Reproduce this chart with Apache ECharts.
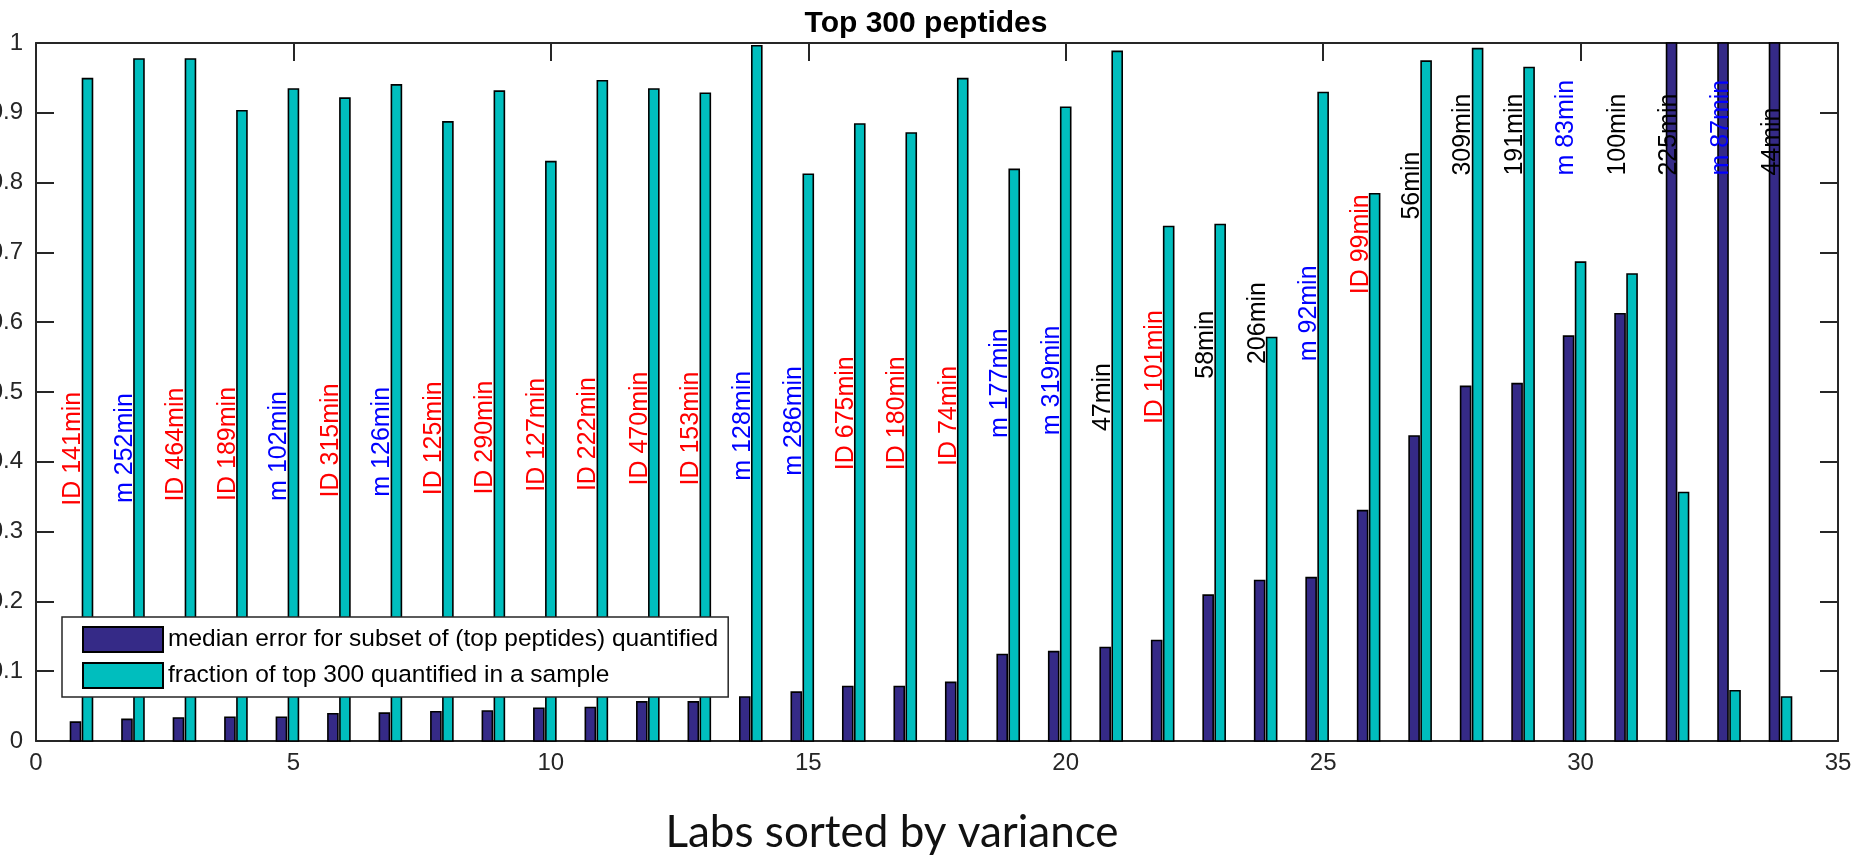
<!DOCTYPE html>
<html>
<head>
<meta charset="utf-8">
<title>Top 300 peptides</title>
<script src="https://cdn.jsdelivr.net/npm/echarts@6/dist/echarts.min.js"></script>
<style>
  html, body { margin: 0; padding: 0; background: #ffffff; }
  #chart { width: 1852px; height: 858px; }
</style>
</head>
<body>
<div id="chart"></div>
<script>
// Labs, ordered by variance
const labs = [1, 2, 3, 4, 5, 6, 7, 8, 9, 10, 11, 12, 13, 14, 15, 16, 17,
              18, 19, 20, 21, 22, 23, 24, 25, 26, 27, 28, 29, 30, 31, 32, 33, 34];

// Median error for the subset of top peptides quantified (last three run off the top of the axis)
const medianError = [0.027, 0.031, 0.033, 0.034, 0.034, 0.039, 0.040, 0.042, 0.043, 0.047,
                     0.048, 0.056, 0.056, 0.063, 0.070, 0.078, 0.078, 0.084, 0.124, 0.128,
                     0.134, 0.144, 0.209, 0.230, 0.234, 0.330, 0.437, 0.508, 0.512, 0.580,
                     0.612, 1.2, 1.2, 1.2];

// Fraction of the top 300 peptides quantified in a sample
const fractionQuantified = [0.949, 0.977, 0.977, 0.903, 0.934, 0.921, 0.940, 0.887, 0.931, 0.830,
                            0.946, 0.934, 0.928, 0.996, 0.812, 0.884, 0.871, 0.949, 0.819, 0.908,
                            0.988, 0.737, 0.740, 0.578, 0.929, 0.784, 0.974, 0.992, 0.965, 0.686,
                            0.669, 0.356, 0.072, 0.063];

// Run annotation per lab (ID = identification-based, m = match-based)
const runLabels = ['ID 141min', 'm 252min', 'ID 464min', 'ID 189min', 'm 102min', 'ID 315min',
                   'm 126min', 'ID 125min', 'ID 290min', 'ID 127min', 'ID 222min', 'ID 470min',
                   'ID 153min', 'm 128min', 'm 286min', 'ID 675min', 'ID 180min', 'ID 74min',
                   'm 177min', 'm 319min', '47min', 'ID 101min', '58min', '206min', 'm 92min',
                   'ID 99min', '56min', '309min', '191min', 'm 83min', '100min', '225min',
                   'm 87min', '44min'];

const seriesNames = ['median error for subset of (top peptides) quantified',
                     'fraction of top 300 quantified in a sample'];

const AXIS_COLOR = '#262626';
const DARK_BLUE = '#352a87';
const TEAL = '#00bebe';
const FONT = '"Liberation Sans", Arial, Helvetica, sans-serif';

const chart = echarts.init(document.getElementById('chart'), null, { renderer: 'canvas' });

// Thin bar drawn at a pixel offset from the lab position, clipped to the plot
function barSeries(name, values, color, offsetPx) {
  return {
    name: name,
    type: 'custom',
    coordinateSystem: 'cartesian2d',
    xAxisIndex: 0,
    yAxisIndex: 0,
    itemStyle: { color: color },
    encode: { x: 0, y: 1 },
    data: labs.map((x, i) => [x, values[i]]),
    z: 2,
    renderItem: function (params, api) {
      const x = api.value(0);
      const v = api.value(1);
      const top = api.coord([x, v]);
      const base = api.coord([x, 0]);
      const w = 10;
      const cs = params.coordSys;
      const shape = echarts.graphic.clipRectByRect(
        { x: top[0] + offsetPx - w / 2, y: top[1], width: w, height: base[1] - top[1] },
        { x: cs.x, y: cs.y, width: cs.width, height: cs.height }
      );
      if (!shape) return null;
      return {
        type: 'rect',
        shape: shape,
        style: { fill: color, stroke: '#000000', lineWidth: 1.6 }
      };
    }
  };
}

function labelColor(text) {
  if (text.indexOf('ID') === 0) return '#ff0000';
  if (text.indexOf('m ') === 0) return '#0000ff';
  return '#000000';
}

const axisLineStyle = { color: AXIS_COLOR, width: 2 };
const tickStyle = { show: true, inside: true, length: 18, lineStyle: { color: AXIS_COLOR, width: 2 } };

const option = {
  backgroundColor: '#ffffff',
  animation: false,
  title: {
    text: 'Top 300 peptides',
    left: 'center',
    top: 4,
    textStyle: { fontFamily: FONT, fontSize: 30, fontWeight: 'bold', color: '#000000' }
  },
  grid: {
    left: 36,
    right: 14,
    top: 43,
    bottom: 117,
    containLabel: false,
    outerBoundsMode: 'none'
  },
  legend: {
    orient: 'vertical',
    left: 62,
    top: 617,
    itemWidth: 80,
    itemHeight: 25,
    itemGap: 9,
    padding: [9, 10, 8, 20],
    backgroundColor: '#ffffff',
    borderColor: AXIS_COLOR,
    borderWidth: 1.5,
    borderRadius: 0,
    selectedMode: false,
    textStyle: { fontFamily: FONT, fontSize: 24.5, color: '#000000' },
    data: [
      { name: seriesNames[0], icon: 'rect', itemStyle: { color: DARK_BLUE, borderColor: '#000000', borderWidth: 2 } },
      { name: seriesNames[1], icon: 'rect', itemStyle: { color: TEAL, borderColor: '#000000', borderWidth: 2 } }
    ]
  },
  xAxis: [
    {
      type: 'value', position: 'bottom', min: 0, max: 35, interval: 5,
      axisLine: { show: true, onZero: false, lineStyle: axisLineStyle },
      axisTick: tickStyle,
      axisLabel: { fontFamily: FONT, fontSize: 24, color: AXIS_COLOR, margin: 10 },
      splitLine: { show: false }
    },
    {
      type: 'value', position: 'top', min: 0, max: 35, interval: 5,
      axisLine: { show: true, onZero: false, lineStyle: axisLineStyle },
      axisTick: tickStyle,
      axisLabel: { show: false },
      splitLine: { show: false }
    }
  ],
  yAxis: [
    {
      type: 'value', position: 'left', min: 0, max: 1, interval: 0.1,
      axisLine: { show: true, onZero: false, lineStyle: axisLineStyle },
      axisTick: tickStyle,
      axisLabel: { fontFamily: FONT, fontSize: 24, color: AXIS_COLOR, margin: 13 },
      splitLine: { show: false }
    },
    {
      type: 'value', position: 'right', min: 0, max: 1, interval: 0.1,
      axisLine: { show: true, onZero: false, lineStyle: axisLineStyle },
      axisTick: tickStyle,
      axisLabel: { show: false },
      splitLine: { show: false }
    }
  ],
  series: [
    barSeries(seriesNames[0], medianError, DARK_BLUE, -12),
    barSeries(seriesNames[1], fractionQuantified, TEAL, 0),
    {
      name: 'run labels',
      type: 'custom',
      coordinateSystem: 'cartesian2d',
      xAxisIndex: 0,
      yAxisIndex: 0,
      encode: { x: 0, y: 1 },
      z: 3,
      // Each label sits a fixed distance above its median-error bar, capped near the top
      data: labs.map((x, i) => [x, Math.min(medianError[i] + 0.31, 0.81), i]),
      renderItem: function (params, api) {
        const i = api.value(2);
        const p = api.coord([api.value(0), api.value(1)]);
        const text = runLabels[i];
        return {
          type: 'text',
          x: p[0] - 14,
          y: p[1],
          rotation: Math.PI / 2,
          style: {
            text: text,
            fill: labelColor(text),
            font: '25px ' + FONT,
            align: 'left',
            verticalAlign: 'middle'
          }
        };
      }
    }
  ],
  graphic: [
    {
      type: 'text',
      x: 892,
      y: 833,
      style: {
        text: 'Labs sorted by variance',
        font: '44px Lato, "Open Sans", sans-serif',
        fill: '#111111',
        align: 'center',
        verticalAlign: 'middle'
      }
    }
  ]
};

chart.setOption(option);
</script>
</body>
</html>
